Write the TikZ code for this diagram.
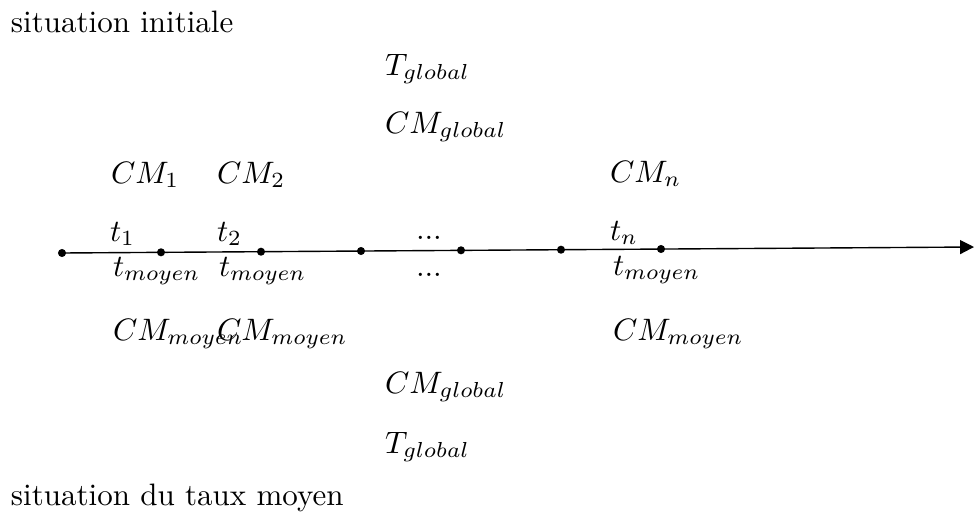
\documentclass[tikz,border=0pt]{standalone}
\usetikzlibrary{arrows.meta}
\begin{document}
\begin{tikzpicture}[x=0.3226pt,y=-0.3226pt,
  lbl/.style={anchor=base west,inner sep=0pt,outer sep=0pt},
  dotpt/.style={circle,fill=black,inner sep=0pt,minimum size=2.6pt},
  axis/.style={line width=0.45pt,-{Triangle[length=4.5pt,width=4.5pt]}}]
\useasboundingbox (0,0) rectangle (974,523);
% titles
\node[lbl] (top) at (11,32) {situation initiale};
\node[lbl] (bot) at (11,505) {situation du taux moyen};
% axis points
\node[dotpt] (p0) at (62,253) {};
\node[dotpt] (p1) at (161,252.3) {};
\node[dotpt] (p2) at (261,251.7) {};
\node[dotpt] (p3) at (361,251) {};
\node[dotpt] (p4) at (461,250.3) {};
\node[dotpt] (p5) at (561,249.7) {};
\node[dotpt] (p6) at (661,249) {};
\coordinate (end) at (974,247);
\draw[axis] (p0.center) -- (end);
% upper labels
\node[lbl] (tg1) at (385,75) {$T_{global}$};
\node[lbl] (cg1) at (385,133) {$CM_{global}$};
\node[lbl] (cm1) at (111,183) {$CM_1$};
\node[lbl] (cm2) at (217,183) {$CM_2$};
\node[lbl] (cmn) at (610,182) {$CM_n$};
\node[lbl] (t1) at (110,241) {$t_1$};
\node[lbl] (t2) at (217,241) {$t_2$};
\node[lbl] (tdots1) at (416,239) {...};
\node[lbl] (tn) at (610,240) {$t_n$};
% lower labels
\node[lbl] (tm1) at (113,276) {$t_{moyen}$};
\node[lbl] (tm2) at (219,276) {$t_{moyen}$};
\node[lbl] (tdots2) at (416,276) {...};
\node[lbl] (tmn) at (613,275) {$t_{moyen}$};
\node[lbl] (cmm1) at (113,340) {$CM_{moyen}$};
\node[lbl] (cmm2) at (217,340) {$CM_{moyen}$};
\node[lbl] (cmmn) at (613,340) {$CM_{moyen}$};
\node[lbl] (cg2) at (385,393) {$CM_{global}$};
\node[lbl] (tg2) at (385,453) {$T_{global}$};
\end{tikzpicture}
\end{document}
